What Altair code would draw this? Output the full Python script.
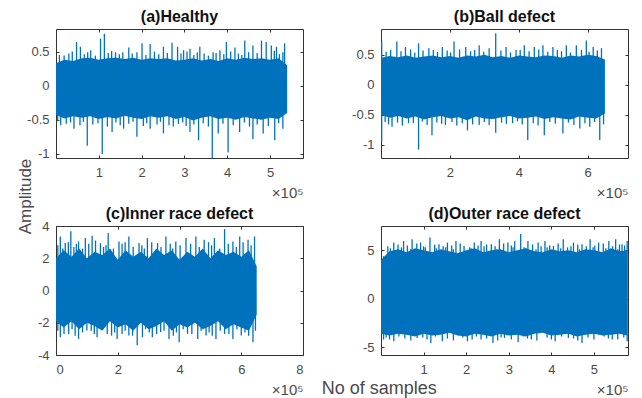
import altair as alt
import pandas as pd

BLUE = "#0072BD"

# ---------------- (a) Healthy ----------------
a_core_x = [0.0,0.2,0.4,0.6,0.8,1.0,1.2,1.4,1.6,1.8,2.0,2.2,2.4,2.6,2.8,3.0,3.2,3.4,3.6,3.8,4.0,4.2,4.4,4.6,4.8,5.0,5.2,5.4]
a_core_hi = [0.33,0.38,0.36,0.40,0.41,0.38,0.40,0.41,0.39,0.41,0.38,0.40,0.39,0.40,0.37,0.38,0.40,0.37,0.39,0.36,0.40,0.38,0.41,0.39,0.40,0.38,0.40,0.30]
a_core_lo = [-0.43,-0.48,-0.45,-0.47,-0.45,-0.49,-0.46,-0.48,-0.44,-0.47,-0.49,-0.45,-0.47,-0.45,-0.49,-0.46,-0.51,-0.47,-0.45,-0.49,-0.47,-0.50,-0.46,-0.48,-0.50,-0.47,-0.49,-0.40]
a_up_x = [0.19,0.48,0.57,0.81,1.04,1.13,1.39,1.70,1.89,2.01,2.20,2.51,2.71,2.84,2.98,3.13,3.36,3.67,3.83,3.98,4.18,4.41,4.60,4.80,4.91,5.03,5.15,5.30,5.34]
a_up_v = [0.44,0.64,0.57,0.52,0.69,0.76,0.49,0.56,0.49,0.62,0.61,0.57,0.63,0.57,0.52,0.54,0.57,0.49,0.52,0.64,0.56,0.66,0.59,0.66,0.64,0.59,0.57,0.49,0.62]
a_dn_x = [0.11,0.42,0.73,1.08,1.31,1.58,1.89,2.20,2.51,2.74,3.13,3.33,3.65,3.79,4.02,4.29,4.60,4.84,5.11,5.30]
a_dn_v = [-0.58,-0.63,-0.88,-1.00,-0.68,-0.63,-0.75,-0.63,-0.70,-0.60,-0.68,-0.80,-1.06,-0.70,-0.98,-0.68,-0.78,-0.70,-0.80,-0.63]
a_mu_x = [0.08,0.30,0.38,0.66,0.74,0.92,1.22,1.30,1.48,1.56,1.78,2.10,2.30,2.40,2.60,2.92,3.06,3.22,3.30,3.46,3.56,3.74,3.92,4.08,4.26,4.34,4.50,4.70,5.10,5.22]
a_mu_v = [0.45,0.47,0.50,0.46,0.49,0.44,0.48,0.51,0.46,0.49,0.47,0.45,0.50,0.46,0.48,0.47,0.50,0.45,0.49,0.47,0.44,0.48,0.46,0.50,0.47,0.45,0.49,0.48,0.51,0.46]
a_md_x = [0.04,0.24,0.34,0.56,0.64,0.86,0.98,1.20,1.40,1.50,1.70,1.80,2.04,2.12,2.36,2.44,2.64,2.86,2.96,3.04,3.22,3.44,3.56,3.90,4.14,4.40,4.52,4.70,4.96,5.20]
a_md_v = [-0.52,-0.56,-0.54,-0.58,-0.53,-0.57,-0.55,-0.60,-0.54,-0.58,-0.56,-0.53,-0.59,-0.55,-0.57,-0.53,-0.58,-0.56,-0.54,-0.59,-0.57,-0.55,-0.60,-0.56,-0.58,-0.54,-0.60,-0.57,-0.59,-0.55]

# ---------------- (b) Ball defect ----------------
b_core_x = [0.0,0.25,0.5,0.75,1.0,1.25,1.5,1.75,2.0,2.25,2.5,2.75,3.0,3.25,3.5,3.75,4.0,4.25,4.5,4.75,5.0,5.25,5.5,5.75,6.0,6.25,6.5]
b_core_hi = [0.45,0.48,0.46,0.49,0.45,0.47,0.49,0.46,0.48,0.45,0.49,0.47,0.50,0.46,0.48,0.45,0.49,0.47,0.46,0.49,0.48,0.45,0.49,0.47,0.50,0.48,0.42]
b_core_lo = [-0.50,-0.55,-0.52,-0.56,-0.53,-0.58,-0.54,-0.52,-0.56,-0.54,-0.59,-0.53,-0.56,-0.57,-0.54,-0.52,-0.56,-0.55,-0.53,-0.57,-0.54,-0.56,-0.58,-0.53,-0.55,-0.56,-0.48]
b_up_x = [0.02,0.46,0.71,1.09,1.39,1.78,2.12,2.46,2.85,3.14,3.33,3.63,3.92,4.16,4.45,4.70,4.99,5.38,5.67,5.96,6.16,6.40]
b_up_v = [0.74,0.72,0.63,0.69,0.61,0.63,0.72,0.63,0.66,0.61,0.86,0.63,0.58,0.66,0.63,0.66,0.63,0.66,0.66,0.74,0.63,0.61]
b_dn_x = [0.02,0.32,0.80,1.09,1.48,1.87,2.51,2.85,3.33,3.82,4.26,4.74,5.28,5.77,6.06,6.35]
b_dn_v = [-0.95,-0.70,-0.64,-1.08,-0.84,-0.67,-0.76,-0.67,-0.80,-0.64,-0.92,-0.84,-0.81,-0.73,-0.70,-0.92]
b_mu_x = [0.15,0.28,0.58,0.86,0.98,1.22,1.52,1.64,1.92,2.02,2.28,2.60,2.72,2.98,3.48,3.76,4.04,4.30,4.58,4.84,5.12,5.24,5.50,5.82,6.04,6.28]
b_mu_v = [0.55,0.58,0.56,0.59,0.54,0.57,0.58,0.55,0.57,0.54,0.59,0.56,0.58,0.55,0.57,0.54,0.58,0.56,0.59,0.55,0.58,0.56,0.54,0.58,0.55,0.57]
b_md_x = [0.12,0.22,0.48,0.62,0.94,1.20,1.34,1.62,1.76,2.06,2.20,2.36,2.66,3.00,3.14,3.50,3.64,3.96,4.10,4.42,4.56,4.90,5.06,5.44,5.60,5.92,6.20,6.46]
b_md_v = [-0.62,-0.66,-0.63,-0.68,-0.64,-0.61,-0.67,-0.63,-0.65,-0.62,-0.68,-0.64,-0.66,-0.62,-0.67,-0.63,-0.65,-0.61,-0.66,-0.64,-0.68,-0.62,-0.65,-0.63,-0.67,-0.64,-0.62,-0.66]

# ---------------- (c) Inner race defect ----------------
c_core_x = [0.0,0.25,0.5,0.75,1.0,1.25,1.5,1.75,2.0,2.25,2.5,2.75,3.0,3.25,3.5,3.75,4.0,4.25,4.5,4.75,5.0,5.25,5.5,5.75,6.0,6.25,6.5]
c_core_hi = [2.0,2.5,2.1,2.6,2.0,2.4,2.2,2.6,1.9,2.5,2.1,2.4,2.0,2.6,2.2,2.5,1.9,2.4,2.1,2.6,2.0,2.5,2.2,2.4,2.1,2.5,1.5]
c_core_lo = [-1.9,-2.3,-1.9,-2.4,-2.0,-2.2,-2.5,-1.9,-2.3,-2.1,-2.5,-2.0,-2.4,-2.2,-1.9,-2.5,-2.1,-2.3,-2.0,-2.4,-2.2,-1.9,-2.4,-2.1,-2.3,-2.5,-1.5]
c_up_x = [0.14,0.30,0.48,0.73,0.95,1.17,1.44,1.69,2.04,2.36,2.69,2.96,3.29,3.56,3.88,4.21,4.53,4.80,5.13,5.46,5.73,5.95,6.22,6.43]
c_up_v = [3.35,2.94,3.67,3.04,3.25,3.40,2.94,3.56,3.04,3.35,2.94,3.25,2.94,3.35,3.04,3.25,3.35,3.15,3.25,3.81,3.04,3.35,3.15,3.35]
c_dn_x = [0.14,0.41,0.73,1.00,1.33,1.66,1.98,2.36,2.63,2.80,3.12,3.39,3.66,3.99,4.26,4.59,4.86,5.18,5.46,5.73,6.00,6.38]
c_dn_v = [-2.90,-2.69,-3.00,-2.48,-2.90,-2.69,-3.00,-2.79,-3.40,-2.90,-2.90,-2.58,-3.00,-3.21,-2.69,-3.00,-2.79,-3.00,-2.69,-3.00,-2.79,-3.21]
c_mu_x = [0.06,0.22,0.40,0.58,0.66,0.86,1.06,1.28,1.54,1.62,1.86,2.14,2.24,2.50,2.78,2.86,3.10,3.40,3.70,3.78,4.02,4.36,4.64,4.94,5.04,5.30,5.58,5.84,6.06,6.32]
c_mu_v = [2.8,2.6,3.0,2.7,2.9,2.6,2.9,3.1,2.7,2.8,2.6,2.9,3.0,2.7,2.8,2.6,3.0,2.7,2.9,2.6,2.8,2.9,2.7,3.0,2.8,2.6,2.9,2.7,3.0,2.8]
c_md_x = [0.06,0.26,0.52,0.62,0.86,1.14,1.24,1.50,1.80,1.90,2.14,2.24,2.48,2.90,3.02,3.26,3.50,3.80,3.90,4.12,4.40,4.70,4.96,5.06,5.32,5.60,5.86,6.12,6.24,6.46]
c_md_v = [-2.5,-2.7,-2.4,-2.8,-2.6,-2.5,-2.7,-2.4,-2.8,-2.6,-2.7,-2.5,-2.8,-2.4,-2.6,-2.7,-2.5,-2.8,-2.6,-2.4,-2.7,-2.5,-2.6,-2.8,-2.5,-2.7,-2.4,-2.6,-2.8,-2.5]

# ---------------- (d) Outer race defect ----------------
d_core_x = [0.0,0.2,0.4,0.6,0.8,1.0,1.2,1.4,1.6,1.8,2.0,2.2,2.4,2.6,2.8,3.0,3.2,3.4,3.6,3.8,4.0,4.2,4.4,4.6,4.8,5.0,5.2,5.4,5.6,5.78]
d_core_hi = [4.0,4.9,5.1,4.8,5.2,5.0,4.8,5.1,4.9,4.7,5.0,5.2,4.8,5.0,5.1,4.8,5.0,5.2,4.9,4.8,5.1,4.9,5.0,4.8,5.1,5.0,4.8,5.2,4.9,5.0]
d_core_lo = [-3.6,-3.8,-3.6,-3.7,-3.9,-3.6,-3.8,-3.7,-3.5,-3.8,-3.9,-3.6,-3.7,-3.9,-3.6,-3.8,-3.7,-3.9,-3.6,-3.5,-3.8,-3.7,-3.6,-3.9,-3.7,-3.6,-3.8,-3.7,-3.6,-3.8]
d_up_x = [0.06,0.30,0.53,0.73,0.93,1.15,1.36,1.56,1.76,1.95,2.19,2.35,2.59,2.78,2.98,3.14,3.28,3.45,3.69,3.85,4.05,4.28,4.52,4.72,4.91,5.11,5.35,5.51,5.66,5.78]
d_up_v = [4.39,5.79,5.96,6.14,5.79,6.32,5.61,5.79,5.96,5.44,5.79,5.96,5.61,6.14,5.79,5.96,6.67,5.96,5.79,5.96,5.44,6.14,5.79,5.61,6.14,5.79,5.96,6.14,5.61,5.96]
d_dn_x = [0.06,0.30,0.85,1.17,1.44,2.03,2.35,2.63,2.90,3.22,3.53,4.09,4.40,4.72,5.43,5.78]
d_dn_v = [-4.21,-4.39,-4.04,-4.56,-4.39,-4.39,-4.21,-4.56,-4.04,-4.46,-4.21,-4.39,-4.04,-4.56,-4.21,-4.39]
d_mu_x = [0.16,0.40,0.62,0.84,1.04,1.26,1.46,1.66,1.86,2.08,2.28,2.48,2.68,2.88,3.06,3.36,3.56,3.76,3.96,4.16,4.38,4.62,4.82,5.02,5.22,5.44,5.60,5.72]
d_mu_v = [5.4,5.6,5.5,5.7,5.3,5.6,5.4,5.5,5.7,5.3,5.5,5.6,5.4,5.7,5.5,5.3,5.6,5.4,5.5,5.7,5.3,5.6,5.4,5.5,5.7,5.4,5.6,5.5]
d_mu_x2 = [0.22,0.48,0.70,1.00,1.30,1.52,1.70,2.12,2.42,2.72,3.10,3.40,3.64,3.90,4.22,4.46,4.66,4.98,5.28,5.56]
d_mu_v2 = [5.2,5.3,5.1,5.4,5.2,5.3,5.1,5.2,5.4,5.1,5.3,5.2,5.1,5.3,5.2,5.4,5.1,5.3,5.2,5.1]
d_md_x = [0.12,0.20,0.42,0.56,0.70,0.98,1.08,1.28,1.56,1.70,1.92,2.14,2.24,2.48,2.74,2.82,3.06,3.34,3.44,3.66,3.90,4.00,4.24,4.52,4.62,4.86,5.00,5.24,5.34,5.56,5.70]
d_md_v = [-4.0,-4.2,-3.9,-4.1,-4.3,-4.0,-4.2,-3.9,-4.1,-4.3,-4.0,-4.2,-3.9,-4.1,-4.3,-4.0,-4.2,-3.9,-4.1,-4.3,-4.0,-4.2,-3.9,-4.1,-4.3,-4.0,-4.2,-3.9,-4.1,-4.2,-4.0]

titles = ["(a)Healthy", "(b)Ball defect", "(c)Inner race defect", "(d)Outer race defect"]
x_domains = [[0, 5.77], [0, 7.17], [0, 8], [0, 5.8]]
y_domains = [[-1.06, 0.83], [-1.22, 0.93], [-4, 4], [-5.8, 7.5]]
x_ticks = [[1, 2, 3, 4, 5], [2, 4, 6], [0, 2, 4, 6, 8], [1, 2, 3, 4, 5]]
y_ticks = [[-1, -0.5, 0, 0.5], [-1, -0.5, 0, 0.5], [-4, -2, 0, 2, 4], [-5, 0, 5]]

cores = [(a_core_x, a_core_hi, a_core_lo), (b_core_x, b_core_hi, b_core_lo),
         (c_core_x, c_core_hi, c_core_lo), (d_core_x, d_core_hi, d_core_lo)]
spikes = [
    (a_up_x + a_dn_x + a_mu_x + a_md_x, a_up_v + a_dn_v + a_mu_v + a_md_v),
    (b_up_x + b_dn_x + b_mu_x + b_md_x, b_up_v + b_dn_v + b_mu_v + b_md_v),
    (c_up_x + c_dn_x + c_mu_x + c_md_x, c_up_v + c_dn_v + c_mu_v + c_md_v),
    (d_up_x + d_dn_x + d_mu_x + d_mu_x2 + d_md_x, d_up_v + d_dn_v + d_mu_v + d_mu_v2 + d_md_v),
]

W, H = 247, 129
FONT = "Liberation Sans"
LBL = "#4a4a4a"
TICK = "#333333"
# the top y label of (c) sits on the frame edge and lifts its title; compensate
title_offsets = [4, 4, -2, 4]


def panel(i):
    cx, chi, clo = cores[i]
    core = pd.DataFrame({"x": cx, "hi": chi, "lo": clo})
    sx, sv = spikes[i]
    sp = pd.DataFrame({"x": sx, "v": sv})

    common = dict(grid=False, domain=False, ticks=True, tickSize=3, offset=-3,
                  tickColor=TICK, tickWidth=1)
    xaxis = alt.Axis(values=x_ticks[i], labelExpr="toString(datum.value)", labelPadding=8,
                     labelFontSize=13, labelColor=LBL, labelFont=FONT,
                     title="×10⁵", titleX=W, titleY=45, titleAlign="right",
                     titleBaseline="bottom", titleFontSize=15, titleFontWeight="normal",
                     titleColor=LBL, titleFont=FONT, **common)
    if i == 0:
        yaxis = alt.Axis(values=y_ticks[i], labelExpr="toString(datum.value)", labelPadding=7,
                         labelFontSize=13, labelColor=LBL, labelFont=FONT,
                         title="Amplitude", titleX=-34, titleY=167, titleAngle=270,
                         titleAlign="center", titleBaseline="middle",
                         titleFontSize=17, titleFontWeight="normal", titleColor=LBL,
                         titleFont=FONT, **common)
    else:
        yaxis = alt.Axis(values=y_ticks[i], labelExpr="toString(datum.value)", labelPadding=7,
                         labelFontSize=13, labelColor=LBL, labelFont=FONT, title=None,
                         **common)
    xtop = alt.Axis(orient="top", values=x_ticks[i], labels=False, title=None, **common)
    yright = alt.Axis(orient="right", values=y_ticks[i], labels=False, title=None, **common)

    xs = alt.Scale(domain=x_domains[i], nice=False, zero=False)
    ys = alt.Scale(domain=y_domains[i], nice=False, zero=False)

    area = alt.Chart(core).mark_area(color=BLUE, opacity=1, clip=True).encode(
        x=alt.X("x:Q", scale=xs, axis=xaxis),
        y=alt.Y("lo:Q", scale=ys, axis=yaxis),
        y2="hi:Q",
    )
    rules = alt.Chart(sp).mark_rule(color=BLUE, strokeWidth=1.3, clip=True).encode(
        x=alt.X("x:Q", scale=xs, axis=xtop),
        y=alt.Y("v:Q", scale=ys, axis=yright),
        y2=alt.datum(0),
    )
    return alt.layer(area, rules).resolve_axis(x="independent", y="independent").properties(
        width=W, height=H,
        title=alt.TitleParams(titles[i], fontSize=16, fontWeight="bold", color="#111111",
                              font=FONT, offset=title_offsets[i], frame="group"),
    )


chart = alt.concat(*[panel(i) for i in range(4)], columns=2,
                   spacing={"row": 68, "column": 78}, bounds="flush").properties(
    title=alt.TitleParams("No of samples", orient="bottom", anchor="middle",
                          fontSize=18, fontWeight="normal", color=LBL,
                          font=FONT, dx=57, dy=-22),
    padding={"left": 7, "top": 0, "right": 5, "bottom": 0},
    background="white",
).configure_view(stroke="#333333", strokeWidth=1)

chart.save("out.html", embed_options={"renderer": "svg", "actions": False})
